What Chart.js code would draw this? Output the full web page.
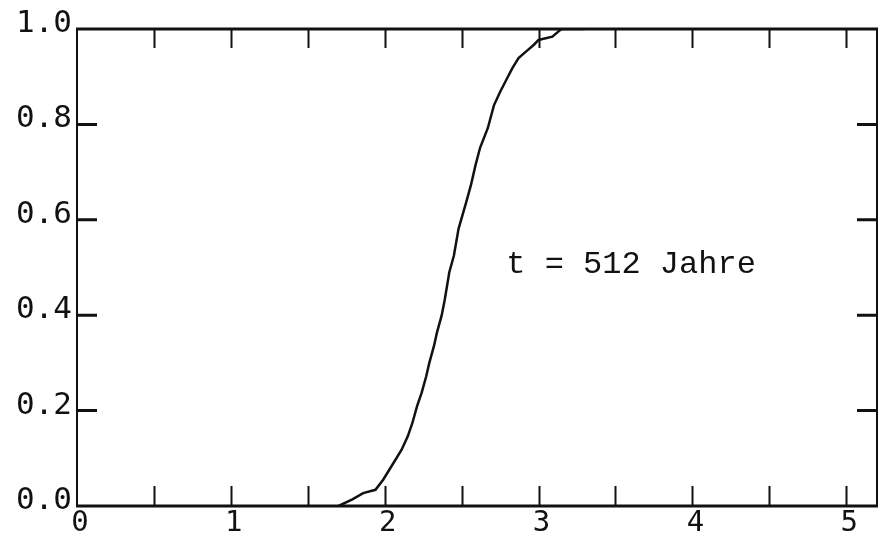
<!DOCTYPE html>
<html><head><meta charset="utf-8">
<script src="https://cdn.jsdelivr.net/npm/chart.js@4"></script>
<style>html,body{margin:0;padding:0;background:#fff}#wrap{width:879px;height:533px}</style>
</head><body><div id="wrap"><canvas id="c" width="879" height="533"></canvas></div>
<script>
const xValues = [1.70, 1.79, 1.86, 1.94, 1.99, 2.03, 2.07, 2.11, 2.15, 2.18, 2.21, 2.24, 2.27, 2.29, 2.32, 2.34, 2.37, 2.39, 2.42, 2.45, 2.48, 2.53, 2.56, 2.59, 2.62, 2.67, 2.71, 2.75, 2.79, 2.83, 2.87, 2.92, 2.97, 3.00, 3.09, 3.13, 3.15, 3.30];
const yValues = [0.000, 0.014, 0.027, 0.034, 0.055, 0.076, 0.097, 0.118, 0.146, 0.174, 0.209, 0.237, 0.272, 0.300, 0.335, 0.364, 0.399, 0.432, 0.490, 0.525, 0.581, 0.637, 0.672, 0.714, 0.751, 0.792, 0.840, 0.868, 0.893, 0.918, 0.939, 0.953, 0.967, 0.977, 0.984, 0.995, 1.000, 1.000];
// Axes
const xRange = [0, 5.2];
const yRange = [0, 1];
const xLabelValues = [0, 1, 2, 3, 4, 5];
const xTickValues = [0.5, 1, 1.5, 2, 2.5, 3, 3.5, 4, 4.5, 5];
const yLabelValues = [0, 0.2, 0.4, 0.6, 0.8, 1.0];
const yTickValues = [0.2, 0.4, 0.6, 0.8];
// Annotation
const annotationText = 't = 512 Jahre';
const annotationX = 2.79;
const annotationY = 0.488;

const points = xValues.map((x, i) => ({x: x, y: yValues[i]}));
const INK = '#111';

const framePlugin = {
  id: 'frame',
  afterDraw(chart) {
    const {ctx, chartArea: a, scales: {x, y}} = chart;
    ctx.save();
    ctx.strokeStyle = INK;
    ctx.lineCap = 'butt';
    // frame
    ctx.lineWidth = 3;
    ctx.beginPath();
    ctx.moveTo(a.left - 1, a.bottom); ctx.lineTo(a.right + 1, a.bottom);
    ctx.moveTo(a.left - 1, a.top); ctx.lineTo(a.right + 1, a.top);
    ctx.stroke();
    ctx.lineWidth = 2;
    ctx.beginPath();
    ctx.moveTo(a.left, a.top); ctx.lineTo(a.left, a.bottom);
    ctx.moveTo(a.right, a.top); ctx.lineTo(a.right, a.bottom);
    ctx.stroke();
    // x ticks (inward, bottom and top)
    ctx.lineWidth = 2;
    ctx.beginPath();
    xTickValues.forEach(v => {
      const px = Math.round(x.getPixelForValue(v)) + 0.5;
      ctx.moveTo(px, a.bottom); ctx.lineTo(px, a.bottom - 20);
      ctx.moveTo(px, a.top); ctx.lineTo(px, a.top + 19);
    });
    ctx.stroke();
    // y ticks (inward, left and right)
    ctx.lineWidth = 3;
    ctx.beginPath();
    yTickValues.forEach(v => {
      const py = y.getPixelForValue(v);
      ctx.moveTo(a.left, py); ctx.lineTo(a.left + 20, py);
      ctx.moveTo(a.right, py); ctx.lineTo(a.right - 20, py);
    });
    ctx.stroke();
    // annotation
    ctx.fillStyle = INK;
    ctx.font = '32px "Liberation Mono"';
    ctx.textAlign = 'left';
    ctx.textBaseline = 'alphabetic';
    ctx.fillText(annotationText, x.getPixelForValue(annotationX), y.getPixelForValue(annotationY));
    ctx.restore();
  }
};

new Chart(document.getElementById('c'), {
  type: 'line',
  data: {
    datasets: [{
      data: points,
      borderColor: INK,
      borderWidth: 2.5,
      pointRadius: 0,
      tension: 0,
      fill: false
    }]
  },
  options: {
    responsive: false,
    animation: false,
    layout: {padding: {top: 29, right: 2, left: 0, bottom: 0}},
    plugins: {legend: {display: false}, tooltip: {enabled: false}},
    scales: {
      x: {
        type: 'linear',
        min: xRange[0], max: xRange[1],
        grid: {display: false, drawTicks: false},
        border: {display: false},
        afterBuildTicks: s => { s.ticks = xLabelValues.map(v => ({value: v})); },
        afterFit: s => { s.height = 27; },
        ticks: {
          color: INK,
          padding: 0,
          labelOffset: 3,
          maxRotation: 0,
          autoSkip: false,
          font: {family: 'DejaVu Sans Mono', size: 29},
          callback: v => String(v)
        }
      },
      y: {
        type: 'linear',
        min: yRange[0], max: yRange[1],
        grid: {display: false, drawTicks: false},
        border: {display: false},
        afterBuildTicks: s => { s.ticks = yLabelValues.map(v => ({value: v})); },
        afterFit: s => { s.width = 77; },
        ticks: {
          color: INK,
          padding: 5,
          labelOffset: -5,
          autoSkip: false,
          font: {family: 'DejaVu Sans Mono', size: 31},
          callback: v => Number(v).toFixed(1)
        }
      }
    }
  },
  plugins: [framePlugin]
});
</script>
</body></html>
